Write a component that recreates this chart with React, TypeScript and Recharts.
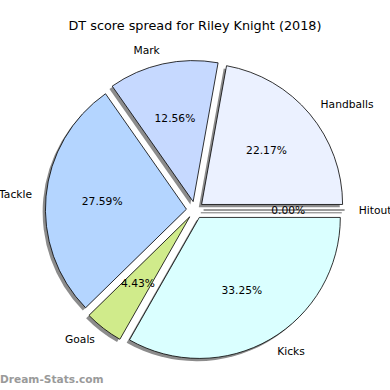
import { PieChart, Pie, Cell } from 'recharts';

const names = ['Hitout', 'Handballs', 'Mark', 'Tackle', 'Goals', 'Kicks'];
const shares = [0.0, 22.17, 12.56, 27.59, 4.43, 33.25];
const colors = ['#ffffff', '#ebf1ff', '#c6d9ff', '#b4d5ff', '#d0eb8b', '#daffff'];

const data = names.map((name, i) => ({ name, value: shares[i] }));

const CX = 195;
const CY = 210;
const R = 141;
const EXPLODE = 8.6;
const SHADOW = 2.8;
const RAD = Math.PI / 180;

// mid angle of each slice (degrees, counter-clockwise from 3 o'clock)
const total = shares.reduce((a, b) => a + b, 0);
const mids: number[] = [];
let acc = 0;
shares.forEach((v) => {
  mids.push(((acc + v / 2) / total) * 360);
  acc += v;
});

const font = 'DejaVu Sans, sans-serif';

function makeLabel(slice: number) {
  return (props: any) => {
    if (props.index !== slice) return null;
    const { cx, cy, midAngle, outerRadius } = props;
    const c = Math.cos(-midAngle * RAD);
    const s = Math.sin(-midAngle * RAD);
    const lx = cx + outerRadius * 1.1 * c;
    const ly = cy + outerRadius * 1.1 * s;
    const px = cx + outerRadius * 0.6 * c;
    const py = cy + outerRadius * 0.6 * s;
    return (
      <g>
        {shares[slice] === 0 && (
          <g>
            <line x1={cx - SHADOW} y1={cy + SHADOW} x2={cx - SHADOW + outerRadius} y2={cy + SHADOW} stroke="#777" strokeWidth={1} />
            <line x1={cx} y1={cy} x2={cx + outerRadius} y2={cy} stroke="#000" strokeWidth={0.8} />
          </g>
        )}
        <text x={lx} y={ly} textAnchor={c >= 0 ? 'start' : 'end'} dominantBaseline="central"
          fontFamily={font} fontSize={10.7} fill="#000">{names[slice]}</text>
        <text x={px} y={py} textAnchor="middle" dominantBaseline="central"
          fontFamily={font} fontSize={10.7} fill="#000">{shares[slice].toFixed(2)}%</text>
      </g>
    );
  };
}

export default function App() {
  return (
    <div style={{ position: 'absolute', left: 0, top: 0, width: 390, height: 390, background: '#fff' }}>
      <div style={{ position: 'absolute', left: 0, width: 390, top: 18, textAlign: 'center', fontFamily: font, fontSize: 12.8, color: '#000' }}>
        DT score spread for Riley Knight (2018)
      </div>
      <PieChart width={390} height={390} margin={{ top: 0, right: 0, bottom: 0, left: 0 }}>
        {data.map((_, i) => {
          const dx = EXPLODE * Math.cos(mids[i] * RAD);
          const dy = -EXPLODE * Math.sin(mids[i] * RAD);
          return (
            <Pie key={'sh' + i} data={data} dataKey="value" nameKey="name"
              cx={CX + dx - SHADOW} cy={CY + dy + SHADOW} outerRadius={R}
              startAngle={0} endAngle={360} isAnimationActive={false}
              labelLine={false} stroke="none">
              {data.map((_, j) => (
                <Cell key={j} fill={j === i && shares[i] > 0 ? '#8c8c8c' : 'none'} stroke="none" />
              ))}
            </Pie>
          );
        })}
        {data.map((_, i) => {
          const dx = EXPLODE * Math.cos(mids[i] * RAD);
          const dy = -EXPLODE * Math.sin(mids[i] * RAD);
          return (
            <Pie key={'p' + i} data={data} dataKey="value" nameKey="name"
              cx={CX + dx} cy={CY + dy} outerRadius={R}
              startAngle={0} endAngle={360} isAnimationActive={false}
              labelLine={false} label={makeLabel(i)}>
              {data.map((_, j) => (
                <Cell key={j} fill={j === i ? colors[j] : 'none'}
                  stroke={j === i && shares[j] > 0 ? '#000' : 'none'} strokeWidth={0.8} />
              ))}
            </Pie>
          );
        })}
      </PieChart>
      <div style={{ position: 'absolute', left: 0, top: 373, fontFamily: font, fontSize: 10.6, fontWeight: 'bold', color: '#9a9a9a' }}>
        Dream-Stats.com
      </div>
    </div>
  );
}
